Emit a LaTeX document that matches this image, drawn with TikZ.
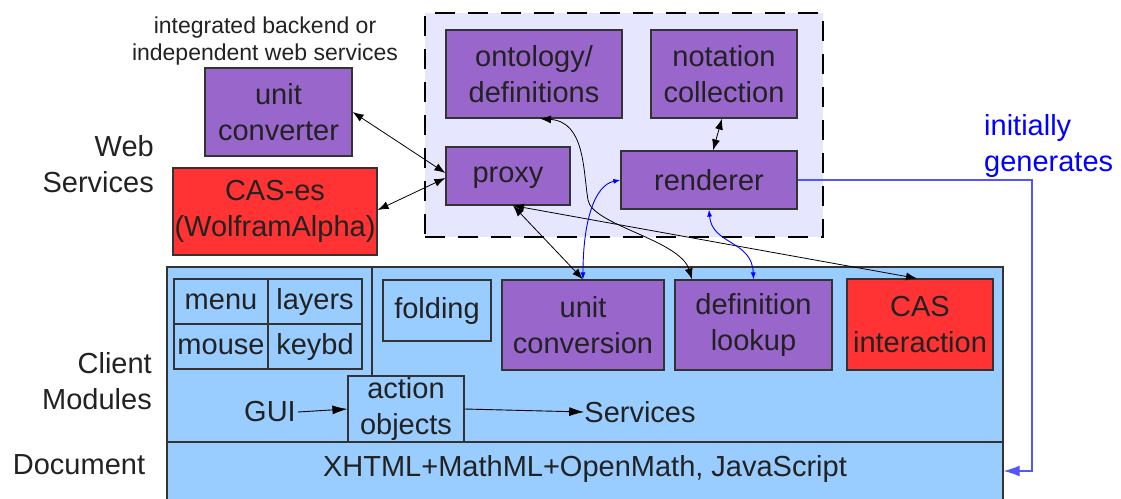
\documentclass[tikz,border=0pt]{standalone}
\usepackage{fontspec}
\setmainfont{Liberation Sans}
\usetikzlibrary{arrows.meta}
\definecolor{purp}{HTML}{9966CC}
\definecolor{redb}{HTML}{FF3333}
\definecolor{lblue}{HTML}{99CCFF}
\definecolor{lav}{HTML}{E6E6FF}
\definecolor{txt}{HTML}{222222}
\definecolor{edge}{HTML}{333333}
\definecolor{genblue}{HTML}{5555FF}
\begin{document}
\begin{tikzpicture}[x=1pt,y=-1pt,
  big/.style={font=\fontsize{29}{35.5}\selectfont, text=txt, align=center},
  small/.style={font=\fontsize{23}{27}\selectfont, text=txt, align=center},
  box/.style={big, draw=edge, line width=1.2pt, inner sep=0pt},
  pbox/.style={box, fill=purp},
  rbox/.style={box, fill=redb},
  bbox/.style={box, fill=lblue},
  lbl/.style={big, inner sep=0pt},
  conn/.style={black, line width=0.8pt, {Latex[length=11pt,width=8pt]}-{Latex[length=11pt,width=8pt]}},
  bconn/.style={blue, line width=0.9pt, {Latex[length=7pt,width=5pt]}-{Latex[length=7pt,width=5pt]}},
  flow/.style={black, line width=0.9pt, -{Latex[length=15pt,width=9pt]}},
]
\useasboundingbox (0,0) rectangle (1121,498);

% web services region
\node[draw=black, fill=lav, line width=1.5pt, dash pattern=on 20pt off 13pt,
  minimum width=398, minimum height=224, inner sep=0pt] (ws) at (624,125) {};

\node[pbox, minimum width=176, minimum height=88] (ont) at (534,74) {ontology/\\definitions};
\node[pbox, minimum width=146, minimum height=88] (nc) at (724,74) {notation\\collection};
\node[pbox, minimum width=124, minimum height=58, text depth=2pt] (proxy) at (508,176) {proxy};
\node[pbox, minimum width=176, minimum height=58] (rend) at (709,180) {renderer};

\node[pbox, minimum width=147, minimum height=88] (uc) at (278.5,112) {unit\\converter};
\node[rbox, minimum width=204, minimum height=87] (cases) at (275,211.5) {CAS-es\\(WolframAlpha)};

\node[small, inner sep=0pt] (note) at (265,41) {integrated backend or\\independent web services};
\node[lbl, align=right, anchor=east] (wsl) at (154,164) {Web\\Services};
\node[lbl, align=right, anchor=east] (cml) at (152,381) {Client\\Modules};
\node[lbl] (docl) at (79,465) {Document};

% client modules
\node[bbox, minimum width=836, minimum height=175] (cm) at (585,354.5) {};
\node[bbox, minimum width=836, minimum height=63] (doc) at (585,473.5) {};
\coordinate (vt) at (372,267);
\coordinate (vb) at (372,376);
\draw[edge, line width=1.2pt] (vt) -- (vb);

\node[bbox, minimum width=94, minimum height=45] (menu) at (221,301.5) {menu};
\node[bbox, minimum width=94, minimum height=45] (layers) at (315,301.5) {layers};
\node[bbox, minimum width=94, minimum height=45] (mouse) at (221,346.5) {mouse};
\node[bbox, minimum width=94, minimum height=45] (keybd) at (315,346.5) {keybd};
\node[bbox, minimum width=108, minimum height=61] (fold) at (437,310.5) {folding};
\node[pbox, minimum width=162, minimum height=90] (uconv) at (583,325) {unit\\conversion};
\node[pbox, minimum width=157, minimum height=90] (dl) at (753.5,325) {definition\\lookup};
\node[rbox, minimum width=146, minimum height=91] (casi) at (920,324.5) {CAS\\interaction};
\node[bbox, minimum width=116, minimum height=66] (act) at (406,409) {action\\objects};

\node[lbl] (gui) at (270,412) {GUI};
\node[lbl] (serv) at (640,412) {Services};
\node[lbl] (xh) at (585,469) {XHTML+MathML+OpenMath, JavaScript};

\node[big, text=blue, align=left, anchor=west, inner sep=0pt] (ig) at (984,146) {initially\\generates};

% connectors
\draw[flow] (gui.east) ++(2,0) coordinate (g1) (g1) -- (act.west);
\draw[flow] (act.east) -- (serv.west);

\draw[conn] (uc.east) -- ([yshift=3pt]proxy.west);
\draw[conn] ([yshift=1.5pt]cases.east) -- ([yshift=-2pt]proxy.west);
\draw[conn] ([xshift=5pt]proxy.south) -- (uconv.north);
\draw[conn] ([xshift=5pt]proxy.south) -- ([xshift=-3pt]casi.north);
\draw[conn] ([xshift=6pt]ont.south) .. controls (585,122) and (583,170) .. (588,200)
  .. controls (592,225) and (680,240) .. ([xshift=-61.5pt]dl.north);
\draw[conn] ([xshift=-2pt]nc.south) -- ([xshift=4pt]rend.north);

\draw[bconn] (rend.west) .. controls (595,185) and (583,220) .. (uconv.north);
\draw[bconn] (rend.south) .. controls (712,245) and (752,240) .. (dl.north);

\coordinate (gen) at (1032,471);
\draw[genblue, line width=1.2pt, -{Latex[length=16pt,width=11pt]}]
  (rend.east) -| (gen) -- (doc.east |- gen);
\end{tikzpicture}
\end{document}
